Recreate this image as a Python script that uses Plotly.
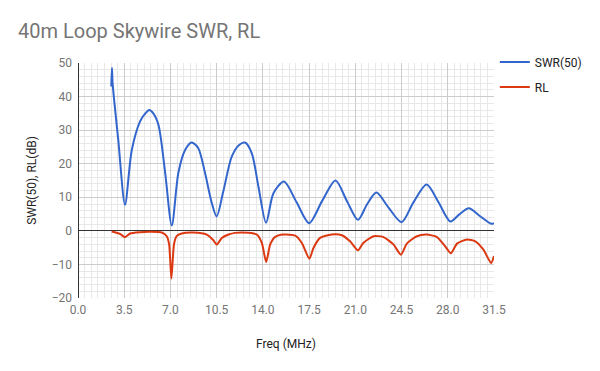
import plotly.graph_objects as go

# SWR(50) readings (frequency MHz, value)
swr_freq = [2.52, 2.57, 2.62, 3.05, 3.56, 4.07, 4.7, 5.1, 5.4, 5.7, 6.09, 6.6, 7.1, 7.6, 8.1, 8.6, 9.1,
            9.62, 10.13, 10.5, 11.0, 11.64, 12.2, 12.65, 13.16, 13.66, 14.24, 14.8, 15.6,
            16.55, 17.5, 18.5, 19.5, 20.35, 21.2, 21.9, 22.6, 23.5, 24.5, 25.4, 26.4, 27.3,
            28.2, 28.9, 29.6, 30.4, 31.3, 31.5]
swr_vals = [43.0, 48.5, 44.0, 27.0, 7.8, 24.0, 32.6, 35.0, 36.0, 35.0, 31.6, 17.3, 1.6, 17.3, 24.0, 26.3, 24.7,
            17.2, 8.3, 4.3, 11.7, 22.1, 25.6, 26.3, 23.1, 13.2, 2.4, 11.2, 14.7,
            8.5, 2.3, 9.0, 15.0, 9.0, 3.3, 8.0, 11.4, 7.0, 2.6, 8.5, 13.8, 8.5,
            2.8, 5.0, 6.7, 4.5, 2.1, 2.3]

# Return loss readings (frequency MHz, dB)
rl_freq = [2.55, 3.18, 3.56, 3.94, 4.7, 5.45, 6.34, 6.72, 6.9, 7.07, 7.27, 7.47, 7.85, 8.73,
           9.75, 10.25, 10.5, 10.89, 11.4, 11.9, 12.9, 13.54, 13.92, 14.25, 14.55, 14.93, 15.56,
           16.45, 16.95, 17.52, 17.83, 18.33, 19.2, 19.98, 20.6, 21.2, 21.6, 22.37, 23.1, 23.9,
           24.45, 24.9, 25.66, 26.4, 27.16, 27.8, 28.23, 28.7, 29.45, 30.08, 30.7, 31.28, 31.5]
rl_vals = [-0.2, -0.9, -1.9, -0.8, -0.4, -0.3, -0.5, -1.6, -4.0, -14.2, -4.0, -1.6, -0.8, -0.5,
           -1.1, -2.8, -4.1, -2.1, -1.1, -0.6, -0.6, -1.1, -3.6, -9.3, -4.1, -1.8, -1.1,
           -1.4, -3.6, -8.3, -5.1, -2.1, -1.1, -1.3, -3.1, -5.8, -3.6, -1.6, -1.8, -4.1,
           -7.1, -3.8, -1.6, -1.1, -1.8, -4.6, -6.7, -3.8, -2.6, -3.1, -5.6, -9.6, -7.5]

x_ticks = [0.0, 3.5, 7.0, 10.5, 14.0, 17.5, 21.0, 24.5, 28.0, 31.5]
y_ticks = [-20, -10, 0, 10, 20, 30, 40, 50]

FONT = "Roboto, Arial, sans-serif"

fig = go.Figure()
fig.add_trace(go.Scatter(x=swr_freq, y=swr_vals, name="SWR(50)", mode="lines", legendgroup="a",
                         line=dict(color="#3366cc", width=2, shape="spline", smoothing=0.8)))
fig.add_trace(go.Scatter(x=rl_freq, y=rl_vals, name="RL", mode="lines", legendgroup="b",
                         line=dict(color="#dc3912", width=2, shape="spline", smoothing=0.6)))

fig.update_layout(
    width=600, height=371,
    margin=dict(l=78, r=106, t=63, b=73, autoexpand=False),
    paper_bgcolor="white", plot_bgcolor="white",
    font=dict(family=FONT, size=12, color="#757575"),
    title=dict(text="40m Loop Skywire SWR, RL", x=18/600, xanchor="left", y=1-31/371, yanchor="middle",
               font=dict(family=FONT, size=20, color="#757575")),
    legend=dict(x=1.002, xanchor="left", y=1.066, yanchor="top", font=dict(size=12, color="#222222"),
                bgcolor="rgba(0,0,0,0)", tracegroupgap=6, itemwidth=30),
    showlegend=True,
    xaxis=dict(range=[0, 31.5], tickvals=x_ticks, ticktext=[f"{v:.1f}" for v in x_ticks],
               automargin=False, ticklabelstandoff=3,
               showgrid=True, gridcolor="#cccccc", gridwidth=1,
               minor=dict(dtick=0.5, tick0=0, showgrid=True, gridcolor="#e8e8e8", gridwidth=1),
               zeroline=True, zerolinecolor="#333333", zerolinewidth=1,
               showline=False, ticks="", tickfont=dict(size=12, color="#757575"),
               title=dict(text="Freq (MHz)", font=dict(size=12, color="#222222"), standoff=23)),
    yaxis=dict(range=[-20, 50], tickvals=y_ticks, automargin=False, ticklabelstandoff=5,
               showgrid=True, gridcolor="#cccccc", gridwidth=1,
               minor=dict(dtick=2, tick0=0, showgrid=True, gridcolor="#e8e8e8", gridwidth=1),
               zeroline=True, zerolinecolor="#333333", zerolinewidth=1,
               showline=False, ticks="", tickfont=dict(size=12, color="#757575"),
               title=dict(text="SWR(50), RL(dB)", font=dict(size=12, color="#222222"), standoff=12)),
)

fig.write_html("out.html", config={"displayModeBar": False},
               post_script="document.body.style.margin='0';")
